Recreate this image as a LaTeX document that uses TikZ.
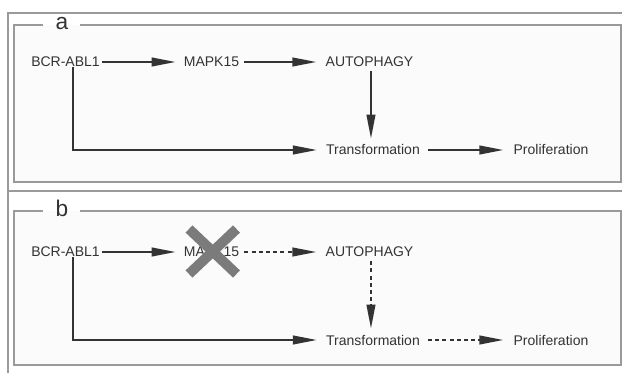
\documentclass[tikz,border=0pt]{standalone}
\usepackage{fontspec}
\setmainfont{Liberation Sans}
\usetikzlibrary{arrows.meta}
\definecolor{framegray}{HTML}{9A9A9A}
\definecolor{ink}{HTML}{333333}
\definecolor{crossgray}{HTML}{7B7B7B}
\definecolor{panelbg}{HTML}{FBFBFB}
\tikzset{
  gene/.style={inner sep=0pt, text=ink, font=\fontsize{10.5}{12}\selectfont},
  panellabel/.style={inner sep=0pt, text=ink, font=\fontsize{17}{19}\selectfont},
  frame/.style={draw=framegray, line width=1.1pt},
  link/.style={draw=ink, line width=1.5pt, -{Triangle[length=18pt,width=6.5pt]}},
  weak/.style={link, dash pattern=on 3pt off 2.4pt},
}
\begin{document}
\begin{tikzpicture}[x=0.75pt, y=-0.75pt]
\useasboundingbox (0,0) rectangle (622,373);
\fill[white] (0,0) rectangle (622,373);

% outer panel frames
\draw[frame] (622,13) -- (8,13) -- (8,373);
\draw[frame] (8,191) -- (622,191);

% inner boxes with a break for the panel letter
\fill[panelbg] (14,25) rectangle (621,182);
\fill[panelbg] (14,211) rectangle (621,365);
\draw[frame] (43,25) -- (14,25) -- (14,182) -- (621,182) -- (621,25) -- (80,25);
\draw[frame] (43,211) -- (14,211) -- (14,365) -- (621,365) -- (621,211) -- (80,211);
\node[panellabel] (la) at (62,24) {a};
\node[panellabel] (lb) at (62,208) {b};

% panel a: intact pathway
\node[gene] (bcra)  at (65.5,62)  {BCR-ABL1};
\node[gene] (mapka) at (211.5,62) {MAPK15};
\node[gene] (autoa) at (369.5,62) {AUTOPHAGY};
\node[gene] (trana) at (373,150)  {Transformation};
\node[gene] (prola) at (551,150)  {Proliferation};

\draw[link, shorten <=1.5pt, shorten >=6pt] (bcra) -- (mapka);
\draw[link, shorten <=3.75pt, shorten >=6.75pt] (mapka) -- (autoa);
\draw[link, shorten <=3pt, shorten >=4.5pt] ([xshift=1.1pt]autoa.south) -- ([xshift=1.1pt]autoa.south |- trana.north);
\draw[link, shorten <=6pt, shorten >=7.5pt] (trana) -- (prola);
\draw[link, shorten >=6.75pt] ([xshift=5.6pt]bcra.south) |- (trana.west);

% panel b: MAPK15 knocked out
\node[gene] (bcrb)  at (65.5,252)  {BCR-ABL1};
\node[gene] (mapkb) at (211.5,252) {MAPK15};
\node[gene] (autob) at (369.5,252) {AUTOPHAGY};
\node[gene] (tranb) at (373,340)   {Transformation};
\node[gene] (prolb) at (551,340)   {Proliferation};

\draw[link, shorten <=1.5pt, shorten >=6pt] (bcrb) -- (mapkb);
\draw[weak, shorten <=3.75pt, shorten >=6.75pt] (mapkb) -- (autob);
\draw[weak, shorten <=3pt, shorten >=4.5pt] ([xshift=1.1pt]autob.south) -- ([xshift=1.1pt]autob.south |- tranb.north);
\draw[weak, shorten <=6pt, shorten >=7.5pt] (tranb) -- (prolb);
\draw[link, shorten >=6.75pt] ([xshift=5.6pt]bcrb.south) |- (tranb.west);

% knockout cross over MAPK15
\draw[crossgray, line width=7.5pt] ([shift={(-22.5,-23)}]mapkb.center) -- ([shift={(25,22)}]mapkb.center);
\draw[crossgray, line width=7.5pt] ([shift={(25,-23)}]mapkb.center) -- ([shift={(-22.5,22)}]mapkb.center);
\end{tikzpicture}
\end{document}
